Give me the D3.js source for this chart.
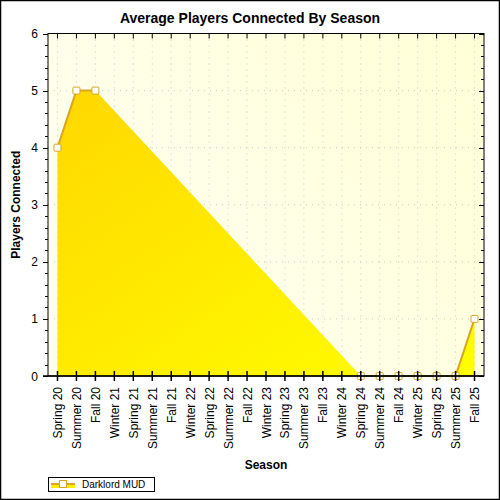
<!DOCTYPE html>
<html>
<head>
<meta charset="utf-8">
<script src="https://cdn.jsdelivr.net/npm/d3@7"></script>
<style>
  body { margin: 0; background: #fff; }
  text { font-family: "Liberation Sans", Arial, sans-serif; }
</style>
</head>
<body>
<div id="chart"></div>
<script>
// data (null = no reading that season)
let seasons = ["Spring 20", "Summer 20", "Fall 20", "Winter 21", "Spring 21", "Summer 21",
    "Fall 21", "Winter 22", "Spring 22", "Summer 22", "Fall 22", "Winter 23", "Spring 23",
    "Summer 23", "Fall 23", "Winter 24", "Spring 24", "Summer 24", "Fall 24", "Winter 25",
    "Spring 25", "Summer 25", "Fall 25"]
let players = [4, 5, 5, null, null, null, null, null, null, null, null, null, null,
    null, null, null, 0, 0, 0, 0, 0, 0, 1]
let yTicks = [0, 1, 2, 3, 4, 5, 6]
let seriesName = "Darklord MUD"

let W = 500, H = 500
let pLeft = 48, pRight = 484, pTop = 33.5, pBottom = 376

let svg = d3.select("div#chart").append("svg")
    .attr("width", W)
    .attr("height", H)

let defs = svg.append("defs")
let bg = defs.append("linearGradient").attr("id", "bg")
    .attr("x1", "0%").attr("y1", "60%").attr("x2", "100%").attr("y2", "0%")
bg.append("stop").attr("offset", "0%").attr("stop-color", "#fffff0")
bg.append("stop").attr("offset", "100%").attr("stop-color", "#ffffd6")
let fill = defs.append("linearGradient").attr("id", "fillgrad")
    .attr("x1", "0%").attr("y1", "0%").attr("x2", "100%").attr("y2", "100%")
fill.append("stop").attr("offset", "0%").attr("stop-color", "#ffd700")
fill.append("stop").attr("offset", "100%").attr("stop-color", "#ffff00")

// outer frame
svg.append("rect")
    .attr("x", 0.5).attr("y", 0.5)
    .attr("width", W - 1).attr("height", H - 1)
    .style("fill", "#fff").style("stroke", "#000").style("stroke-width", 1.5)

let x = d3.scaleBand().domain(seasons).range([pLeft, pRight])
let xc = d => x(d) + x.bandwidth() / 2
let y = d3.scaleLinear().domain([0, 6]).range([pBottom, pTop])

svg.append("rect")
    .attr("x", pLeft).attr("y", pTop)
    .attr("width", pRight - pLeft).attr("height", pBottom - pTop)
    .style("fill", "url(#bg)")

// dotted grid
let grid = svg.append("g")
grid.selectAll("line.v").data(seasons).enter().append("line")
    .attr("x1", d => xc(d)).attr("x2", d => xc(d))
    .attr("y1", pTop).attr("y2", pBottom)
    .style("stroke", "#c8c8c8").style("stroke-dasharray", "1,5")
grid.selectAll("line.h").data(yTicks.slice(1)).enter().append("line")
    .attr("x1", pLeft).attr("x2", pRight)
    .attr("y1", d => y(d)).attr("y2", d => y(d))
    .style("stroke", "#c8c8c8").style("stroke-dasharray", "1,5")

let pts = seasons.map((s, i) => ({s: s, v: players[i]}))
let known = pts.filter(d => d.v != null)

// area bridges the gaps, line does not
let area = d3.area().x(d => xc(d.s)).y0(y(0)).y1(d => y(d.v))
svg.append("path")
    .attr("d", area(known))
    .style("fill", "url(#fillgrad)")

let line = d3.line().defined(d => d.v != null).x(d => xc(d.s)).y(d => y(d.v))
svg.append("path")
    .attr("d", line(pts))
    .style("fill", "none")
    .style("stroke", "#daa520")
    .style("stroke-width", 2)

svg.selectAll("rect.mark").data(known).enter().append("rect")
    .attr("class", "mark")
    .attr("x", d => xc(d.s) - 3.5).attr("y", d => y(d.v) - 3.5)
    .attr("width", 7).attr("height", 7)
    .attr("rx", 1)
    .style("fill", "#fff")
    .style("stroke", "#daa520")
    .style("stroke-width", 1)

// axes
let minor = d3.range(0, 6.01, 0.2)
let ax = svg.append("g").style("stroke", "#000")
ax.append("rect")
    .attr("x", pLeft).attr("y", pTop)
    .attr("width", pRight - pLeft).attr("height", pBottom - pTop)
    .style("fill", "none").style("stroke", "#000")
ax.selectAll("line.ly").data(minor).enter().append("line")
    .attr("x1", (d, i) => i % 5 == 0 ? pLeft - 5 : pLeft - 3).attr("x2", pLeft)
    .attr("y1", d => Math.round(y(d)) + 0.5).attr("y2", d => Math.round(y(d)) + 0.5)
ax.selectAll("line.ry").data(minor).enter().append("line")
    .attr("x1", (d, i) => i % 5 == 0 ? pRight - 5 : pRight - 3).attr("x2", pRight)
    .attr("y1", d => Math.round(y(d)) + 0.5).attr("y2", d => Math.round(y(d)) + 0.5)
ax.selectAll("line.bx").data(seasons).enter().append("line")
    .attr("x1", d => xc(d)).attr("x2", d => xc(d))
    .attr("y1", pBottom - 5).attr("y2", pBottom + 5)
    .style("stroke-width", 1.5)
ax.selectAll("line.tx").data(seasons).enter().append("line")
    .attr("x1", d => xc(d)).attr("x2", d => xc(d))
    .attr("y1", pTop).attr("y2", pTop + 5)
ax.append("line")
    .attr("x1", pLeft - 5).attr("x2", pRight)
    .attr("y1", pBottom).attr("y2", pBottom)
    .style("stroke-width", 1.5)

svg.selectAll("text.yl").data(yTicks).enter().append("text")
    .attr("x", 38).attr("y", d => y(d) + 4.5)
    .attr("text-anchor", "end")
    .style("font-size", "12px")
    .text(d => d)

svg.selectAll("text.xl").data(seasons).enter().append("text")
    .attr("transform", d => "translate(" + (xc(d) + 4.5) + "," + 387 + ") rotate(-90)")
    .attr("text-anchor", "end")
    .style("font-size", "12px")
    .text(d => d)

// titles
svg.append("text")
    .attr("x", 250).attr("y", 23)
    .attr("text-anchor", "middle")
    .style("font-size", "14px").style("font-weight", "bold")
    .text("Average Players Connected By Season")
svg.append("text")
    .attr("x", (pLeft + pRight) / 2).attr("y", 469)
    .attr("text-anchor", "middle")
    .style("font-size", "12px").style("font-weight", "bold")
    .text("Season")
svg.append("text")
    .attr("transform", "translate(20," + (pTop + pBottom) / 2 + ") rotate(-90)")
    .attr("text-anchor", "middle")
    .style("font-size", "12px").style("font-weight", "bold")
    .text("Players Connected")

// legend
let lg = svg.append("g")
lg.append("rect")
    .attr("x", 48.5).attr("y", 477.5).attr("width", 106).attr("height", 14)
    .style("fill", "#fff").style("stroke", "#000")
lg.append("rect")
    .attr("x", 51).attr("y", 484).attr("width", 24).attr("height", 4)
    .style("fill", "#ffee00")
lg.append("line")
    .attr("x1", 51).attr("x2", 75).attr("y1", 484).attr("y2", 484)
    .style("stroke", "#daa520").style("stroke-width", 2)
lg.append("rect")
    .attr("x", 59.5).attr("y", 480.5).attr("width", 7).attr("height", 7)
    .style("fill", "#fff").style("stroke", "#daa520")
lg.append("text")
    .attr("x", 82).attr("y", 488)
    .style("font-size", "10px")
    .text(seriesName)
</script>
</body>
</html>
